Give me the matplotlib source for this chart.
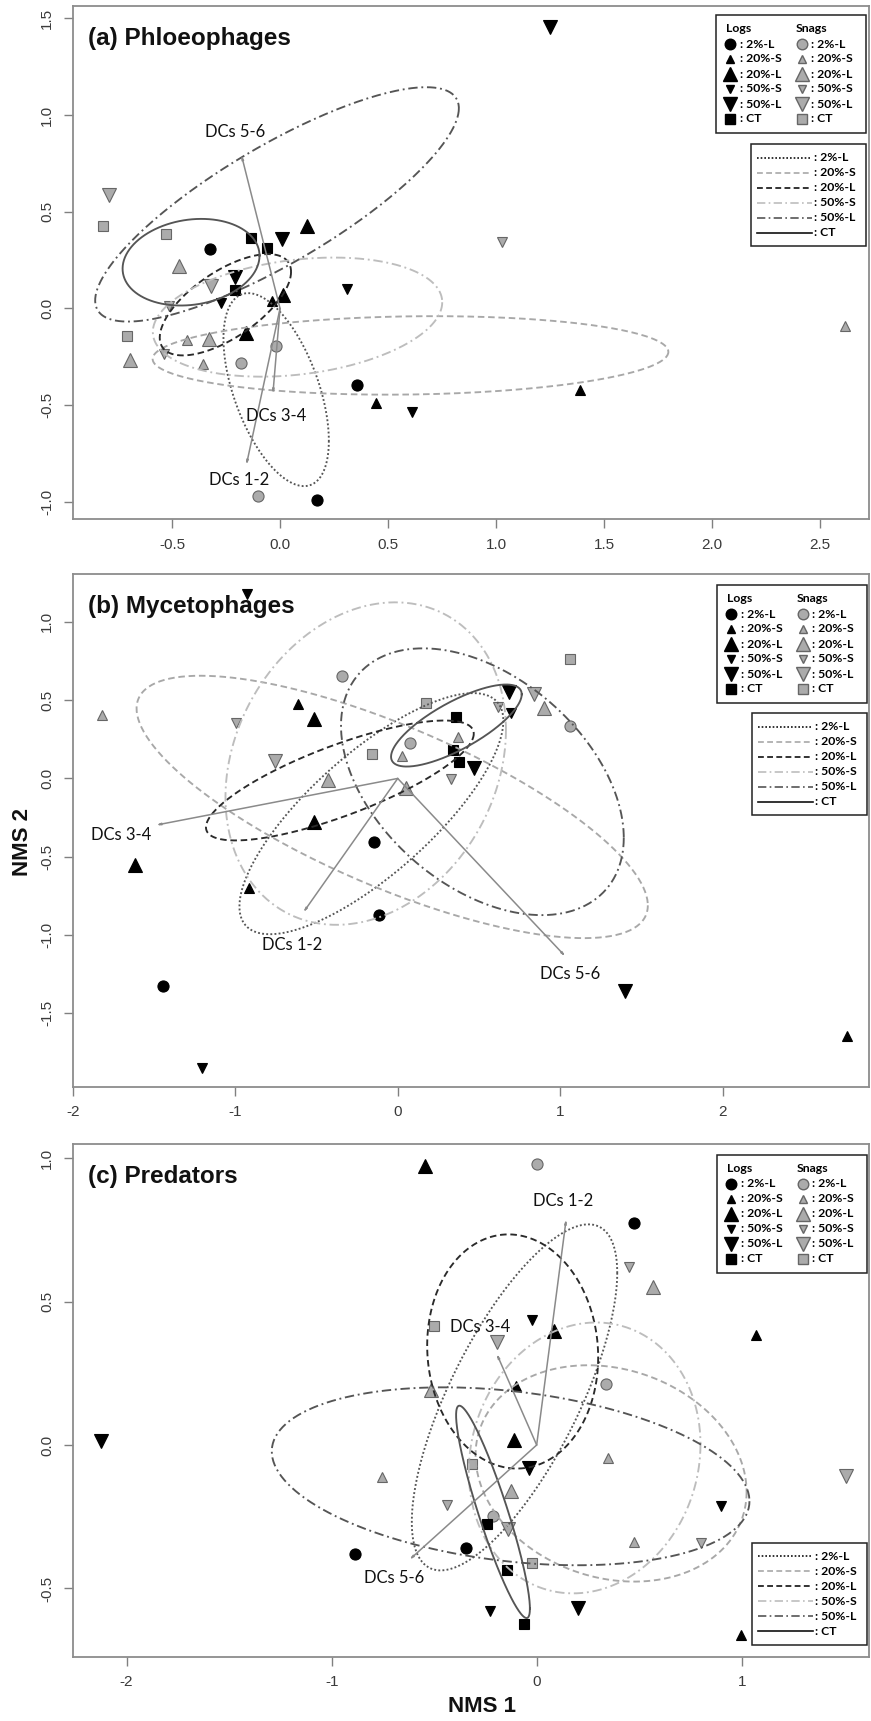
import numpy as np
import matplotlib
matplotlib.use("Agg")
import matplotlib.pyplot as plt
from matplotlib.lines import Line2D
from matplotlib.patches import Rectangle
from matplotlib.transforms import Affine2D

plt.rcParams['font.family'] = ['Liberation Sans', 'DejaVu Sans']
plt.rcParams['axes.unicode_minus'] = False

W, H = 871, 1721

# treatment groups, same order in every nested list below
treatments = ['2%-L', '20%-S', '20%-L', '50%-S', '50%-L', 'CT']
dc_labels = ['DCs 1-2', 'DCs 3-4', 'DCs 5-6']
titles = ['(a) Phloeophages', '(b) Mycetophages', '(c) Predators']

# (a) Phloeophages
a_logs_x = [[-0.323, 0.356, 0.169], [-0.038, 0.446, 1.39], [0.126, 0.015, -0.156],
            [0.31, -0.272, 0.613], [1.251, 0.008, -0.208], [-0.133, -0.059, -0.21]]
a_logs_y = [[0.306, -0.394, -0.989], [0.037, -0.488, -0.424], [0.424, 0.068, -0.127],
            [0.101, 0.028, -0.534], [1.457, 0.361, 0.164], [0.365, 0.311, 0.096]]
a_snags_x = [[-0.021, -0.182, -0.1], [2.618, -0.431, -0.356], [-0.469, -0.331, -0.695],
             [1.028, -0.515, -0.536], [-0.79, -0.318], [-0.818, -0.526, -0.71]]
a_snags_y = [[-0.192, -0.284, -0.972], [-0.092, -0.164, -0.289], [0.221, -0.16, -0.265],
             [0.344, 0.011, -0.234], [0.587, 0.116], [0.424, 0.385, -0.144]]
# ellipses: centre x, centre y, half width, half height, correlation
a_ellipses = [(-0.018, -0.42, 0.244, 0.499, -0.53), (0.604, -0.243, 1.194, 0.203, 0.09),
              (-0.253, 0.019, 0.304, 0.262, 0.65), (0.081, -0.045, 0.67, 0.308, 0.25),
              (-0.014, 0.538, 0.842, 0.606, 0.82), (-0.412, 0.239, 0.317, 0.224, 0.15)]
a_vec_x = [-0.156, -0.033, -0.179]
a_vec_y = [-0.81, -0.442, 0.794]
a_lab_x = [-0.19, -0.018, -0.21]
a_lab_y = [-0.888, -0.556, 0.91]

# (b) Mycetophages
b_logs_x = [[-0.147, -0.113, -1.446], [-0.615, -0.913, 2.762], [-0.513, -0.516, -1.614],
            [-0.93, 0.694, -1.203], [0.687, 0.468, 1.398], [0.359, 0.342, 0.379]]
b_logs_y = [[-0.406, -0.871, -1.326], [0.477, -0.697, -1.644], [0.382, -0.279, -0.553],
            [1.181, 0.416, -1.852], [0.55, 0.064, -1.355], [0.391, 0.179, 0.105]]
b_snags_x = [[-0.345, 0.075, 1.063], [-1.819, 0.024, 0.369], [-0.427, 0.051, 0.899],
             [-0.995, 0.619, 0.328], [0.838, -0.756], [1.063, 0.174, -0.157]]
b_snags_y = [[0.653, 0.227, 0.338], [0.404, 0.142, 0.264], [-0.01, -0.061, 0.448],
             [0.355, 0.457, -0.002], [0.541, 0.11], [0.766, 0.484, 0.154]]
b_ellipses = [(-0.162, -0.225, 0.812, 0.77, 0.77), (-0.034, -0.182, 1.573, 0.838, -0.75),
              (-0.356, -0.013, 0.824, 0.383, 0.78), (-0.197, 0.095, 0.863, 1.03, 0.21),
              (0.521, -0.021, 0.87, 0.852, -0.42), (0.361, 0.338, 0.402, 0.262, 0.76)]
b_vec_x = [-0.581, -1.487, 1.032]
b_vec_y = [-0.856, -0.298, -1.137]
b_lab_x = [-0.65, -1.70, 1.06]
b_lab_y = [-1.064, -0.36, -1.248]

# (c) Predators
c_logs_x = [[0.477, -0.886, -0.344], [1.068, -0.1, 0.997], [-0.547, 0.084, -0.111],
            [-0.024, 0.897, -0.23], [-2.127, -0.038, 0.203], [-0.241, -0.146, -0.06]]
c_logs_y = [[0.775, -0.379, -0.359], [0.382, 0.204, -0.663], [0.972, 0.398, 0.017],
            [0.435, -0.214, -0.577], [0.013, -0.08, -0.567], [-0.276, -0.434, -0.623]]
c_snags_x = [[0.003, 0.339, -0.214], [0.347, -0.756, 0.477], [0.569, -0.515, -0.125],
             [0.45, -0.439, 0.802], [1.507, -0.192, -0.141], [-0.499, -0.314, -0.024]]
c_snags_y = [[0.981, 0.211, -0.246], [-0.045, -0.113, -0.339], [0.549, 0.19, -0.16],
             [0.622, -0.21, -0.343], [-0.107, 0.36, -0.294], [0.415, -0.065, -0.412]]
c_ellipses = [(-0.108, 0.166, 0.501, 0.603, 0.72), (0.363, -0.099, 0.661, 0.377, -0.17),
              (-0.117, 0.326, 0.417, 0.408, -0.05), (0.234, -0.045, 0.565, 0.472, 0.1),
              (-0.127, -0.109, 1.165, 0.31, -0.28), (-0.213, -0.233, 0.18, 0.37, -0.91)]
c_vec_x = [0.144, -0.195, -0.621]
c_vec_y = [0.787, 0.318, -0.4]
c_lab_x = [0.13, -0.276, -0.696]
c_lab_y = [0.849, 0.411, -0.463]

a_xticks = [-0.5, 0.0, 0.5, 1.0, 1.5, 2.0, 2.5]
a_yticks = [-1.0, -0.5, 0.0, 0.5, 1.0, 1.5]
b_xticks = [-2, -1, 0, 1, 2]
b_yticks = [-1.5, -1.0, -0.5, 0.0, 0.5, 1.0]
c_xticks = [-2, -1, 0, 1]
c_yticks = [-0.5, 0.0, 0.5, 1.0]

# marker per treatment
markers = ['o', '^', '^', 'v', 'v', 's']
msizes = [8, 6.5, 10, 6.5, 10, 7.5]
snag_fill = '#ababab'
snag_edge = '#666666'

# ellipse colour / dash per treatment
ell_colors = ['#555555', '#a8a8a8', '#2a2a2a', '#bdbdbd', '#555555', '#555555']
ell_dashes = [(0, (1, 1.2)), (0, (3.5, 2)), (0, (3.5, 2)),
              (0, (5, 2, 1, 2)), (0, (5, 2, 1, 2)), '-']

label_font = ['Lato', 'DejaVu Sans']

fig = plt.figure(figsize=(W / 100, H / 100), dpi=100)
# pixel coordinates, origin top left
px = Affine2D().scale(1 / W, -1 / H).translate(0, 1) + fig.transFigure


def ellipse_xy(cx, cy, hx, hy, r, n=300):
    t = np.linspace(0, 2 * np.pi, n)
    phi = np.arccos(r)
    return cx + hx * np.cos(t), cy + hy * np.cos(t + phi)


def panel(box, xlim, ylim, xticks, yticks, xfmt, logs_x, logs_y, snags_x, snags_y,
          ellipses, vec_x, vec_y, lab_x, lab_y, title):
    l, t, r, b = box
    ax = fig.add_axes([l / W, 1 - b / H, (r - l) / W, (b - t) / H])
    for i in range(len(treatments)):
        ax.plot(logs_x[i], logs_y[i], ls='none', marker=markers[i], ms=msizes[i],
                mfc='black', mec='black', mew=0.8, zorder=3)
        ax.plot(snags_x[i], snags_y[i], ls='none', marker=markers[i], ms=msizes[i],
                mfc=snag_fill, mec=snag_edge, mew=0.8, zorder=3)
    for i, e in enumerate(ellipses):
        ex, ey = ellipse_xy(*e)
        ax.plot(ex, ey, color=ell_colors[i], ls=ell_dashes[i], lw=1.35, zorder=4)
    for i in range(3):
        ax.annotate('', xy=(vec_x[i], vec_y[i]), xytext=(0, 0),
                    arrowprops=dict(arrowstyle='-|>,head_length=0.2,head_width=0.05',
                                    color='#8a8a8a', lw=1.1, shrinkA=0, shrinkB=0),
                    zorder=5)
        ax.text(lab_x[i], lab_y[i], dc_labels[i], ha='center', va='center',
                fontsize=12, family=label_font, color='#111111', zorder=6)
    ax.set_xlim(xlim)
    ax.set_ylim(ylim)
    ax.set_xticks(xticks)
    ax.set_yticks(yticks)
    ax.set_xticklabels([xfmt.format(v) for v in xticks])
    ax.set_yticklabels(['{:.1f}'.format(v) for v in yticks], rotation=90, va='center')
    ax.tick_params(direction='out', length=6.5, width=1, color='#808080',
                   labelcolor='#3a3a3a', labelsize=11, pad=7)
    for s in ax.spines.values():
        s.set_color('#8c8c8c')
        s.set_linewidth(1.3)
    fig.text(88 / W, 1 - (t + 32) / H, title, ha='left', va='center',
             fontsize=17.5, fontweight='bold', color='#111111')
    return ax


def marker_legend(x0, y0):
    w, h = 150, 118
    fig.add_artist(Rectangle((x0, y0), w, h, transform=px, fill=True,
                             facecolor='white', edgecolor='#222222', lw=1.1, zorder=10))
    fig.text(x0 + 10, y0 + 14, 'Logs', transform=px, ha='left', va='center',
             fontsize=8.8, fontweight='bold', family=label_font, zorder=11)
    fig.text(x0 + 80, y0 + 14, 'Snags', transform=px, ha='left', va='center',
             fontsize=8.8, fontweight='bold', family=label_font, zorder=11)
    for i, name in enumerate(treatments):
        yy = y0 + 29 + 15 * i
        fig.add_artist(Line2D([x0 + 14], [yy], transform=px, marker=markers[i],
                              ms=msizes[i] * 0.95, mfc='black', mec='black', zorder=11))
        fig.add_artist(Line2D([x0 + 86], [yy], transform=px, marker=markers[i],
                              ms=msizes[i] * 0.95, mfc=snag_fill, mec=snag_edge, zorder=11))
        fig.text(x0 + 24, yy, ': ' + name, transform=px, ha='left', va='center',
                 fontsize=8.8, fontweight='bold', family=label_font, zorder=11)
        fig.text(x0 + 95, yy, ': ' + name, transform=px, ha='left', va='center',
                 fontsize=8.8, fontweight='bold', family=label_font, zorder=11)


def line_legend(x0, y0):
    w, h = 115, 102
    fig.add_artist(Rectangle((x0, y0), w, h, transform=px, fill=True,
                             facecolor='white', edgecolor='#222222', lw=1.1, zorder=10))
    for i, name in enumerate(treatments):
        yy = y0 + 13.5 + 15 * i
        col = ell_colors[i] if i not in (0, 2, 5) else '#111111'
        fig.add_artist(Line2D([x0 + 6, x0 + 61], [yy, yy], transform=px, color=col,
                              ls=ell_dashes[i], lw=1.2, zorder=11))
        fig.text(x0 + 63, yy, ': ' + name, transform=px, ha='left', va='center',
                 fontsize=8.8, fontweight='bold', family=label_font, zorder=11)


panel((72.7, 6, 869, 519), (-0.96, 2.727), (-1.089, 1.564), a_xticks, a_yticks, '{:.1f}',
      a_logs_x, a_logs_y, a_snags_x, a_snags_y, a_ellipses,
      a_vec_x, a_vec_y, a_lab_x, a_lab_y, titles[0])
panel((72.7, 574.3, 869, 1086.7), (-2.0, 2.90), (-1.969, 1.304), b_xticks, b_yticks, '{:d}',
      b_logs_x, b_logs_y, b_snags_x, b_snags_y, b_ellipses,
      b_vec_x, b_vec_y, b_lab_x, b_lab_y, titles[1])
panel((72.7, 1144, 869, 1656.5), (-2.263, 1.621), (-0.737, 1.049), c_xticks, c_yticks, '{:d}',
      c_logs_x, c_logs_y, c_snags_x, c_snags_y, c_ellipses,
      c_vec_x, c_vec_y, c_lab_x, c_lab_y, titles[2])

marker_legend(716, 15)
line_legend(751, 144)
marker_legend(716.6, 585)
line_legend(751.6, 713)
marker_legend(716.6, 1154.5)
line_legend(751.6, 1542.8)

fig.text(22 / W, 1 - 842 / H, 'NMS 2', rotation=90, ha='center', va='center',
         fontsize=16, fontweight='bold', color='#111111')
fig.text(482 / W, 1 - 1706 / H, 'NMS 1', ha='center', va='center',
         fontsize=16, fontweight='bold', color='#111111')

fig.savefig('out.png', dpi=100)
